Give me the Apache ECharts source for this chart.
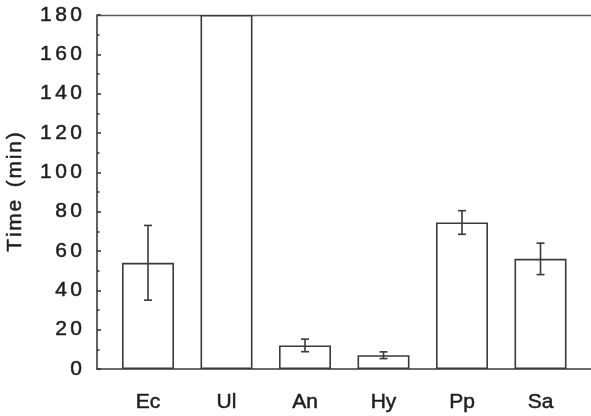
<!DOCTYPE html>
<html>
<head>
<meta charset="utf-8">
<script src="https://cdn.jsdelivr.net/npm/echarts@6/dist/echarts.min.js"></script>
<style>
  html, body { margin: 0; padding: 0; background: #fff; }
  #chart { width: 591px; height: 416px; }
</style>
</head>
<body>
<div id="chart"></div>
<script>
// Time per strain (minutes), mean with standard error
const categories = ['Ec', 'Ul', 'An', 'Hy', 'Pp', 'Sa'];
const meanTime = [54, 180, 12, 7, 74.5, 56];
const errTime = [19, 0, 3.2, 1.7, 6, 8];
const yTicks = [0, 20, 40, 60, 80, 100, 120, 140, 160, 180];

const INK = '#3a3a3a';
const TEXT = '#1e1e1e';
const FONT = 'Liberation Sans';
const spaced = (s, gap) => String(s).split('').join(gap);
const textLook = {
  color: TEXT, fontFamily: FONT, fontSize: 21,
  textBorderColor: TEXT, textBorderWidth: 0.5
};

const errData = categories.map((c, i) => [i, meanTime[i] - errTime[i], meanTime[i] + errTime[i]]);

const chart = echarts.init(document.getElementById('chart'));
chart.setOption({
  animation: false,
  backgroundColor: '#fff',
  grid: [
    { left: 97, top: 15, width: 494, height: 354, containLabel: false, outerBoundsMode: 'none' },
    { left: 108.75, top: 15, width: 471, height: 354, containLabel: false, outerBoundsMode: 'none' }
  ],
  xAxis: [
    { // frame: bottom axis line
      gridIndex: 0, type: 'value', min: 0, max: 1, position: 'bottom',
      axisLine: { show: true, lineStyle: { color: INK, width: 1.6 } },
      axisTick: { show: false }, axisLabel: { show: false }, splitLine: { show: false }
    },
    { // frame: top border
      gridIndex: 0, type: 'value', min: 0, max: 1, position: 'top',
      axisLine: { show: true, lineStyle: { color: '#5a5a5a', width: 1.4 } },
      axisTick: { show: false }, axisLabel: { show: false }, splitLine: { show: false }
    },
    { // categories
      gridIndex: 1, type: 'category', data: categories,
      axisLine: { show: false }, axisTick: { show: false },
      axisLabel: Object.assign({ margin: 23 }, textLook)
    }
  ],
  yAxis: [
    {
      gridIndex: 0, type: 'value', min: 0, max: 180, interval: 20,
      name: spaced('Time', '\u200a') + '\u2009\u2009\u2009' + spaced('(min)', '\u200a'),
      nameLocation: 'middle', nameRotate: 90, nameGap: 71,
      nameTextStyle: textLook,
      axisLine: { show: true, lineStyle: { color: INK, width: 1.6 } },
      axisTick: { show: true, inside: true, length: 4, lineStyle: { color: INK, width: 1.6 } },
      minorTick: { show: true, splitNumber: 2, length: 2.5, lineStyle: { color: INK, width: 1.6 } },
      axisLabel: Object.assign({
        margin: 15,
        formatter: v => yTicks.includes(v) ? spaced(v, '\u200a\u200a') : ''
      }, textLook),
      splitLine: { show: false }
    },
    {
      gridIndex: 1, type: 'value', min: 0, max: 180, interval: 20, show: false
    }
  ],
  series: [
    {
      type: 'bar', xAxisIndex: 2, yAxisIndex: 1, data: meanTime, barWidth: 52,
      itemStyle: { color: '#fff', borderColor: INK, borderWidth: 1.6 },
      z: 2
    },
    {
      type: 'custom', xAxisIndex: 2, yAxisIndex: 1, data: errData, z: 3,
      renderItem: (params, api) => {
        if (api.value(2) - api.value(1) <= 0) return null;
        const lo = api.coord([api.value(0), api.value(1)]);
        const hi = api.coord([api.value(0), api.value(2)]);
        const w = 4;
        const style = { stroke: INK, lineWidth: 1.6 };
        return {
          type: 'group',
          children: [
            { type: 'line', shape: { x1: lo[0], y1: lo[1], x2: hi[0], y2: hi[1] }, style },
            { type: 'line', shape: { x1: hi[0] - w, y1: hi[1], x2: hi[0] + w, y2: hi[1] }, style },
            { type: 'line', shape: { x1: lo[0] - w, y1: lo[1], x2: lo[0] + w, y2: lo[1] }, style }
          ]
        };
      }
    }
  ]
});
</script>
</body>
</html>
